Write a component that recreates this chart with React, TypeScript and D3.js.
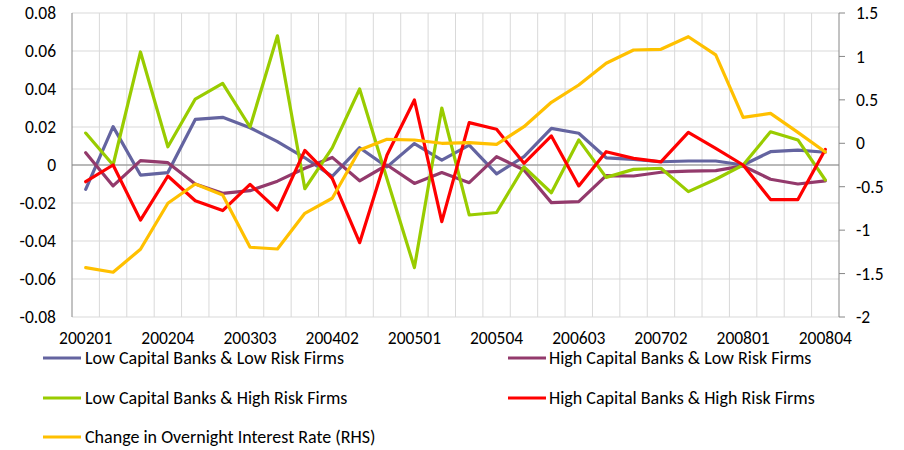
import React from 'react';
import * as d3 from 'd3';

const categories = [
  '200201', '200202', '200203', '200204',
  '200301', '200302', '200303', '200304',
  '200401', '200402', '200403', '200404',
  '200501', '200502', '200503', '200504',
  '200601', '200602', '200603', '200604',
  '200701', '200702', '200703', '200704',
  '200801', '200802', '200803', '200804',
];
const tickLabels = ['200201', '200204', '200303', '200402', '200501', '200504', '200603', '200702', '200801', '200804'];

const lowCapLowRisk = [-0.0128, 0.0202, -0.0053, -0.004, 0.024, 0.0251, 0.0196, 0.0123, 0.0038, -0.006, 0.0091, -0.001, 0.0113, 0.0026, 0.0105, -0.0047, 0.0044, 0.0193, 0.0167, 0.0038, 0.003, 0.0017, 0.0021, 0.0021, 0.0, 0.007, 0.0078, 0.0067];
const highCapLowRisk = [0.0065, -0.011, 0.0023, 0.0012, -0.01, -0.0149, -0.0135, -0.0085, -0.0017, 0.004, -0.0083, 0.0, -0.0097, -0.004, -0.0093, 0.0044, -0.0026, -0.0198, -0.0193, -0.0056, -0.0058, -0.0038, -0.0032, -0.003, -0.0005, -0.0075, -0.01, -0.0084];
const lowCapHighRisk = [0.0168, 0.0, 0.0595, 0.0096, 0.0347, 0.043, 0.02, 0.068, -0.0125, 0.009, 0.04, -0.0074, -0.054, 0.03, -0.0263, -0.025, -0.001, -0.0146, 0.0132, -0.0065, -0.0023, -0.0017, -0.014, -0.0075, 0.0, 0.0175, 0.0132, -0.0079];
const highCapHighRisk = [-0.0088, 0.0, -0.029, -0.0058, -0.0188, -0.024, -0.0102, -0.0237, 0.0077, -0.007, -0.0409, 0.0053, 0.0342, -0.0298, 0.0223, 0.0188, 0.0009, 0.0153, -0.011, 0.007, 0.0035, 0.0016, 0.0172, 0.0088, 0.0, -0.0182, -0.0182, 0.0082];
const overnightRate = [-1.432, -1.485, -1.22, -0.69, -0.469, -0.595, -1.197, -1.217, -0.806, -0.633, -0.077, 0.046, 0.038, 0.0, 0.007, -0.012, 0.191, 0.472, 0.671, 0.921, 1.074, 1.082, 1.227, 1.017, 0.299, 0.345, 0.125, -0.1];

const leftTicks = [-0.08, -0.06, -0.04, -0.02, 0, 0.02, 0.04, 0.06, 0.08];
const rightTicks = [-2, -1.5, -1, -0.5, 0, 0.5, 1, 1.5];

const seriesNames = [
  'Low Capital Banks & Low Risk Firms',
  'High Capital Banks & Low Risk Firms',
  'Low Capital Banks & High Risk Firms',
  'High Capital Banks & High Risk Firms',
  'Change in Overnight Interest Rate (RHS)',
];
const seriesColors = ['#6464A0', '#933A6C', '#99CC00', '#FF0000', '#FFC000'];

const FONT = 'Carlito, Lato, sans-serif';

export default function App() {
  const W = 904, H = 450;
  const left = 72, right = 839, top = 13, bottom = 317;

  const x = d3.scaleBand<string>().domain(categories).range([left, right]);
  const cx = (c: string) => (x(c) as number) + x.bandwidth() / 2;
  const yL = d3.scaleLinear().domain([-0.08, 0.08]).range([bottom, top]);
  const yR = d3.scaleLinear().domain([-2, 1.5]).range([bottom, top]);

  const lineL = d3.line<number>().x((_, i) => cx(categories[i])).y(d => yL(d));
  const lineR = d3.line<number>().x((_, i) => cx(categories[i])).y(d => yR(d));

  const leftSeries = [lowCapLowRisk, highCapLowRisk, lowCapHighRisk, highCapHighRisk];

  const fmt = (v: number) => (v === 0 ? '0' : String(v));

  const legend = [
    { i: 0, lx: 43, tx: 85, y: 358 },
    { i: 1, lx: 508, tx: 549, y: 358 },
    { i: 2, lx: 43, tx: 85, y: 398 },
    { i: 3, lx: 508, tx: 549, y: 398 },
    { i: 4, lx: 43, tx: 85, y: 437 },
  ];

  return (
    <div style={{ position: 'absolute', left: 0, top: 0 }}>
      <svg width={W} height={H} style={{ display: 'block', background: '#fff' }} fontFamily={FONT}>
        {leftTicks.map(t => (
          <line key={'hg' + t} x1={left} x2={right} y1={yL(t)} y2={yL(t)} stroke="#D9D9D9" strokeWidth={1} />
        ))}
        {categories.slice(1).map(c => (
          <line key={'vg' + c} x1={x(c)} x2={x(c)} y1={top} y2={bottom} stroke="#D9D9D9" strokeWidth={1} />
        ))}
        <line x1={left} x2={left} y1={top} y2={bottom} stroke="#868686" strokeWidth={1} />
        <line x1={right} x2={right} y1={top} y2={bottom} stroke="#868686" strokeWidth={1} />
        {rightTicks.map(t => (
          <line key={'rt' + t} x1={right} x2={right + 6} y1={yR(t)} y2={yR(t)} stroke="#868686" strokeWidth={1} />
        ))}
        <line x1={left} x2={right} y1={yL(0)} y2={yL(0)} stroke="#868686" strokeWidth={1} />

        {leftTicks.map(t => (
          <text key={'lt' + t} x={56} y={yL(t)} dy="0.35em" textAnchor="end" fontSize={17.5} fill="#000">{fmt(t)}</text>
        ))}
        {rightTicks.map(t => (
          <text key={'rl' + t} x={856} y={yR(t)} dy="0.35em" textAnchor="start" fontSize={17.5} fill="#000">{fmt(t)}</text>
        ))}
        {tickLabels.map(c => (
          <text key={'xl' + c} x={cx(c)} y={344} textAnchor="middle" fontSize={17.5} fill="#000">{c}</text>
        ))}

        {leftSeries.map((s, i) => (
          <path key={'s' + i} d={lineL(s) as string} fill="none" stroke={seriesColors[i]} strokeWidth={3.2} strokeLinejoin="round" strokeLinecap="round" />
        ))}
        <path d={lineR(overnightRate) as string} fill="none" stroke={seriesColors[4]} strokeWidth={3.2} strokeLinejoin="round" strokeLinecap="round" />

        {legend.map(l => (
          <g key={'lg' + l.i}>
            <line x1={l.lx} x2={l.lx + 38} y1={l.y} y2={l.y} stroke={seriesColors[l.i]} strokeWidth={3.2} />
            <text x={l.tx} y={l.y} dy="0.35em" fontSize={18} fill="#000">{seriesNames[l.i]}</text>
          </g>
        ))}
      </svg>
    </div>
  );
}
